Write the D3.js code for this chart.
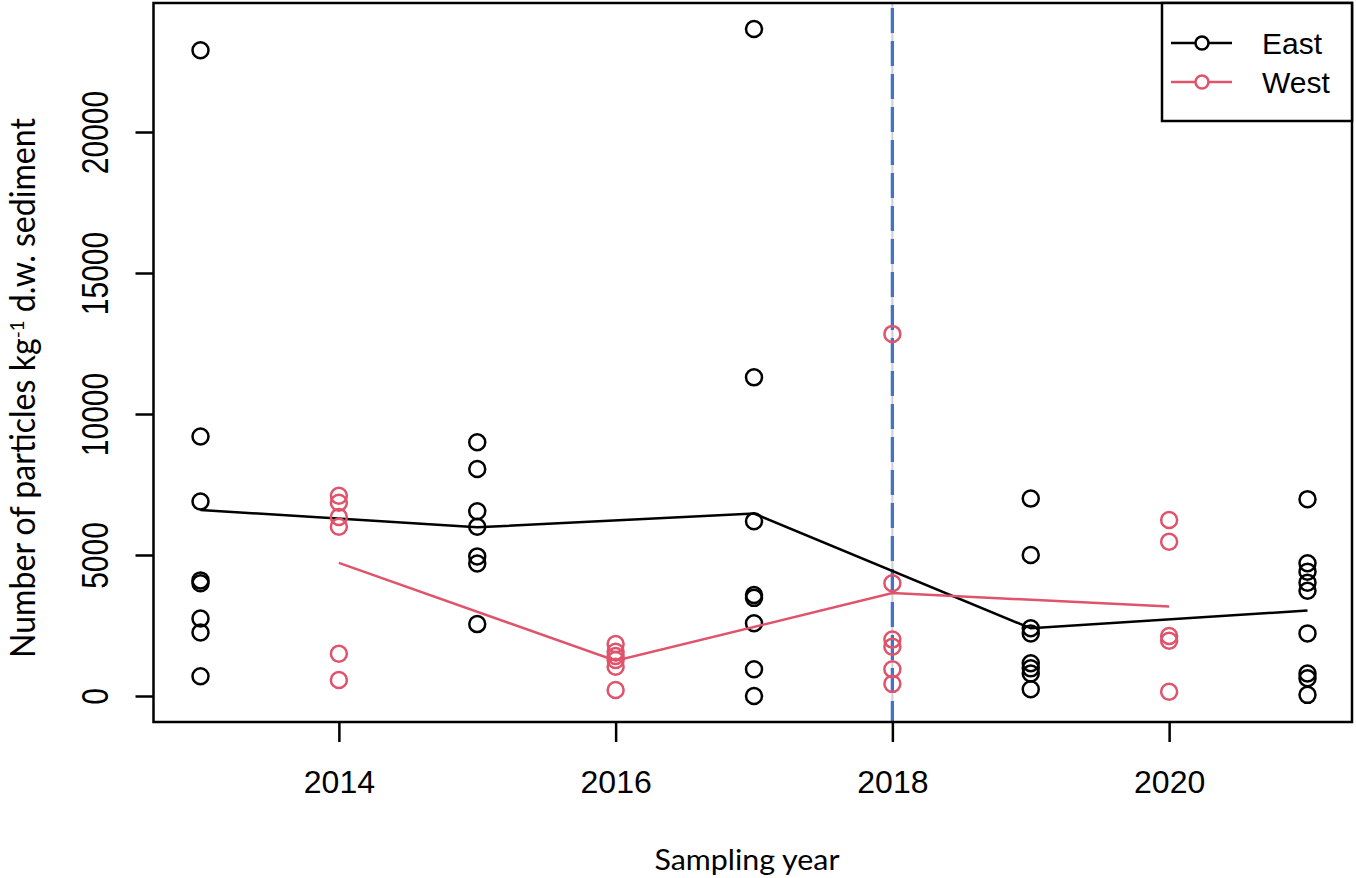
<!DOCTYPE html>
<html>
<head>
<meta charset="utf-8">
<script src="https://cdn.jsdelivr.net/npm/d3@7.9.0/dist/d3.min.js"></script>
<style>
  body { margin: 0; background: #fff; }
  svg { display: block; }
</style>
</head>
<body>
<svg id="chart"></svg>
<script>
// values
const eastYears = [2013, 2015, 2017, 2019, 2021];
const eastPoints = [
  [22900, 9200, 6900, 4100, 4000, 2750, 2250, 700],
  [9000, 8050, 6550, 6000, 4950, 4700, 2550],
  [23650, 11300, 6200, 3580, 3480, 2580, 950, 0],
  [7000, 5000, 2400, 2220, 1160, 980, 800, 240],
  [6980, 4710, 4410, 4020, 3730, 2220, 800, 630, 40]
];
const eastMeans = [6600, 5980, 6470, 2400, 3030];

const westYears = [2014, 2016, 2018, 2020];
const westPoints = [
  [7100, 6850, 6350, 6000, 1500, 570],
  [1840, 1570, 1420, 1280, 1040, 210],
  [12840, 4000, 2000, 1750, 950, 430],
  [6240, 5470, 2130, 1960, 150]
];
const westMeans = [4720, 1250, 3650, 3170];

const xTicks = [2014, 2016, 2018, 2020];
const yTicks = [0, 5000, 10000, 15000, 20000];
const markerYear = 2018;

const seriesNames = ["East", "West"];
const seriesColors = ["#000000", "#DF536B"];

const W = 1356, H = 878;
const box = { left: 153.5, right: 1352, top: 3, bottom: 722 };

const svg = d3.select("#chart").attr("width", W).attr("height", H);
svg.append("rect").attr("width", W).attr("height", H).attr("fill", "#fff");

const x = d3.scaleLinear().domain([2013, 2021]).range([200.5, 1307.5]);
const y = d3.scaleLinear().domain([0, 20000]).range([696, 132]);

// axes
const xAxis = svg.append("g")
  .attr("transform", `translate(0,${box.bottom})`)
  .call(d3.axisBottom(x).tickValues(xTicks).tickFormat(d3.format("d")).tickSize(20).tickPadding(28));
xAxis.select(".domain").remove();
xAxis.selectAll("line").attr("stroke", "#000").attr("stroke-width", 2.5);
xAxis.selectAll("text")
  .attr("fill", "#000")
  .style("font-family", "'Liberation Sans', Arial, sans-serif")
  .style("font-size", "32px");

const yAxis = svg.append("g")
  .attr("transform", `translate(${box.left},0)`)
  .call(d3.axisLeft(y).tickValues(yTicks).tickFormat(d3.format("d")).tickSize(18));
yAxis.select(".domain").remove();
yAxis.selectAll("line").attr("stroke", "#000").attr("stroke-width", 2.5);
yAxis.selectAll("text")
  .attr("x", null).attr("dy", null)
  .attr("text-anchor", "middle")
  .attr("transform", "translate(-45.5,0) scale(1.22,1) rotate(-90)")
  .attr("fill", "#000")
  .style("font-family", "'Liberation Sans', Arial, sans-serif")
  .style("font-size", "30px");

// dashed reference line
svg.append("line")
  .attr("x1", x(markerYear)).attr("x2", x(markerYear))
  .attr("y1", box.top).attr("y2", box.bottom)
  .attr("stroke", "#cfcfcf").attr("stroke-width", 2);
svg.append("line")
  .attr("x1", x(markerYear)).attr("x2", x(markerYear))
  .attr("y1", box.top + 5).attr("y2", box.bottom)
  .attr("stroke", "#4472C4").attr("stroke-width", 3.3)
  .attr("stroke-dasharray", "25,8");

// points + mean lines
const series = [
  { years: eastYears, points: eastPoints, means: eastMeans },
  { years: westYears, points: westPoints, means: westMeans }
];

series.forEach((s, i) => {
  const flat = [];
  s.years.forEach((yr, j) => s.points[j].forEach((v) => flat.push([yr, v])));

  svg.append("g")
    .selectAll("circle")
    .data(flat)
    .join("circle")
    .attr("cx", (d) => x(d[0]))
    .attr("cy", (d) => y(d[1]))
    .attr("r", 8)
    .attr("fill", "none")
    .attr("stroke", seriesColors[i])
    .attr("stroke-width", 2.5);

  svg.append("path")
    .datum(s.years.map((yr, j) => [yr, s.means[j]]))
    .attr("d", d3.line().x((d) => x(d[0])).y((d) => y(d[1])))
    .attr("fill", "none")
    .attr("stroke", seriesColors[i])
    .attr("stroke-width", 2.5);
});

// plot frame
svg.append("rect")
  .attr("x", box.left).attr("y", box.top)
  .attr("width", box.right - box.left).attr("height", box.bottom - box.top)
  .attr("fill", "none").attr("stroke", "#000").attr("stroke-width", 2.5);

// legend
const legend = svg.append("g");
legend.append("rect")
  .attr("x", 1162).attr("y", box.top)
  .attr("width", box.right - 1162).attr("height", 118)
  .attr("fill", "#fff").attr("stroke", "#000").attr("stroke-width", 2.5);

seriesNames.forEach((name, i) => {
  const cy = 43 + i * 39;
  legend.append("line")
    .attr("x1", 1171).attr("x2", 1232).attr("y1", cy).attr("y2", cy)
    .attr("stroke", seriesColors[i]).attr("stroke-width", 2.5);
  legend.append("circle")
    .attr("cx", 1202).attr("cy", cy).attr("r", 6.5)
    .attr("fill", "#fff").attr("stroke", seriesColors[i]).attr("stroke-width", 2.5);
  legend.append("text")
    .attr("x", 1262).attr("y", cy + 11)
    .style("font-family", "'Liberation Sans', Arial, sans-serif")
    .style("font-size", "30px")
    .text(name);
});

// axis titles
svg.append("text")
  .attr("x", 747).attr("y", 870)
  .attr("text-anchor", "middle")
  .attr("textLength", 185).attr("lengthAdjust", "spacingAndGlyphs")
  .style("font-family", "Lato, 'Noto Sans', sans-serif")
  .style("font-size", "28px")
  .text("Sampling year");

const yTitle = svg.append("text")
  .attr("transform", "translate(35,388) rotate(-90)")
  .attr("text-anchor", "middle")
  .attr("textLength", 540).attr("lengthAdjust", "spacingAndGlyphs")
  .style("font-family", "Lato, 'Noto Sans', sans-serif")
  .style("font-size", "34px");
yTitle.append("tspan").text("Number of particles kg");
yTitle.append("tspan").attr("dy", -11).style("font-size", "20px").text("-1");
yTitle.append("tspan").attr("dy", 11).text(" d.w. sediment");
</script>
</body>
</html>
